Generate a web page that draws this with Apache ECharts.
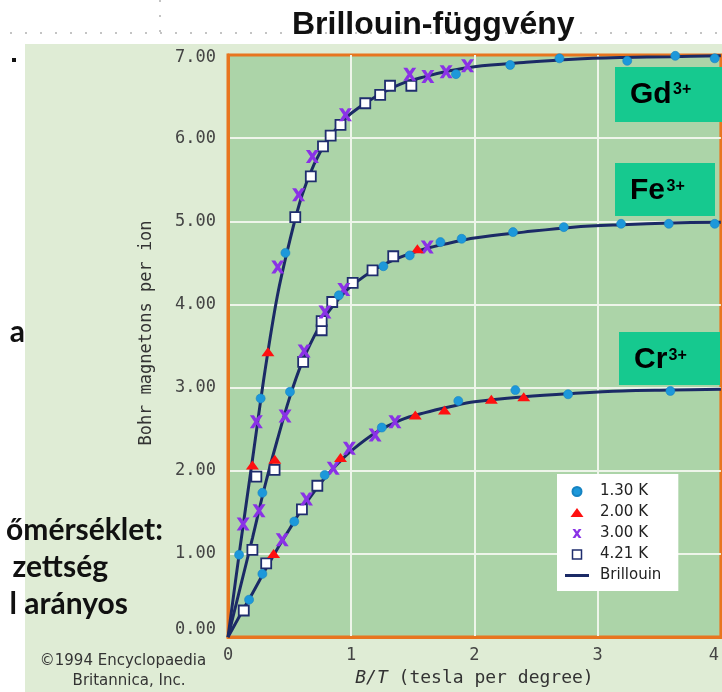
<!DOCTYPE html>
<html><head><meta charset="utf-8">
<script src="https://cdn.jsdelivr.net/npm/echarts@6/dist/echarts.min.js"></script>
<style>
html,body{margin:0;padding:0;background:#fff;width:722px;height:692px;overflow:hidden;position:relative}
#panel{position:absolute;left:25px;top:44px;width:697px;height:648px;background:#dfecd5}
#dots{position:absolute;left:10px;top:32px;width:712px;height:2px;background:repeating-linear-gradient(to right,#c4c4c4 0 2px,transparent 2px 15px)}
#vdots{position:absolute;left:159px;top:0;width:2px;height:32px;background:repeating-linear-gradient(to bottom,#c4c4c4 0 2px,transparent 2px 15px)}
#bullet{position:absolute;left:12px;top:58px;width:4px;height:4px;background:#111}
#chart{position:absolute;left:0;top:0;width:722px;height:692px}
</style></head>
<body>
<div id="panel"></div><div id="dots"></div><div id="vdots"></div><div id="bullet"></div>
<div id="chart"></div>
<script>
// ---- tick labels ----
const xTickLabels = ['0', '1', '2', '3', '4'];
const yTickLabels = ['0.00', '1.00', '2.00', '3.00', '4.00', '5.00', '6.00', '7.00'];
const legendNames = ['1.30 K', '2.00 K', '3.00 K', '4.21 K', 'Brillouin'];

// ---- measured points [B/T, Bohr magnetons per ion] ----
// Gd3+
const gd130 = [[0.09,0.99],[0.265,2.87],[0.466,4.62],[1.85,6.77],[2.29,6.88],[2.69,6.96],[3.24,6.93],[3.63,6.99],[3.95,6.96]];
const gd200 = [[0.198,2.07],[0.324,3.43]];
const gd300 = [[0.123,1.36],[0.23,2.59],[0.404,4.45],[0.573,5.32],[0.685,5.78],[0.953,6.28],[1.475,6.77],[1.622,6.74],[1.77,6.80],[1.944,6.87]];
const gd421 = [[0.23,1.93],[0.546,5.05],[0.672,5.54],[0.771,5.90],[0.833,6.03],[0.913,6.16],[1.114,6.42],[1.235,6.52],[1.315,6.63],[1.488,6.63]];
// Fe3+
const fe130 = [[0.279,1.735],[0.503,2.95],[0.9,4.11],[1.261,4.46],[1.475,4.59],[1.724,4.75],[1.896,4.79],[2.313,4.87],[2.725,4.93],[3.19,4.97],[3.577,4.97],[3.95,4.97]];
const fe200 = [[0.38,2.14],[1.537,4.67]];
const fe300 = [[0.252,1.52],[0.463,2.66],[0.618,3.44],[0.787,3.91],[0.94,4.18],[1.617,4.69]];
const fe421 = [[0.198,1.05],[0.378,2.01],[0.61,3.31],[0.76,3.69],[0.76,3.80],[0.846,4.03],[1.012,4.26],[1.173,4.41],[1.341,4.58]];
// Cr3+
const cr130 = [[0.171,0.45],[0.279,0.76],[0.538,1.39],[0.785,1.95],[1.248,2.52],[1.869,2.84],[2.332,2.97],[2.76,2.92],[3.59,2.96]];
const cr200 = [[0.37,1.005],[0.913,2.16],[1.52,2.67],[1.757,2.73],[2.137,2.86],[2.40,2.89]];
const cr300 = [[0.44,1.17],[0.637,1.66],[0.854,2.03],[0.985,2.27],[1.194,2.43],[1.355,2.59]];
const cr421 = [[0.128,0.32],[0.31,0.886],[0.6,1.535],[0.725,1.82]];

// ---- Brillouin curves ----
const gdLine = [[0,0],[0.1,1.1],[0.2,2.15],[0.3,3.2],[0.4,4.1],[0.5,4.76],[0.6,5.31],[0.7,5.69],[0.8,5.96],[0.9,6.15],[1.0,6.3],[1.2,6.5],[1.4,6.65],[1.6,6.74],[1.8,6.81],[2.0,6.86],[2.4,6.91],[2.8,6.95],[3.2,6.97],[3.6,6.98],[4.0,6.99]];
const feLine = [[0,0],[0.1,0.6],[0.2,1.2],[0.3,1.82],[0.4,2.37],[0.5,2.88],[0.6,3.3],[0.7,3.62],[0.8,3.88],[0.9,4.07],[1.0,4.22],[1.2,4.43],[1.4,4.57],[1.6,4.67],[1.8,4.74],[2.0,4.8],[2.4,4.87],[2.8,4.93],[3.2,4.96],[3.6,4.98],[4.0,4.99]];
const crLine = [[0,0],[0.1,0.27],[0.2,0.53],[0.3,0.8],[0.4,1.06],[0.5,1.3],[0.6,1.54],[0.7,1.75],[0.8,1.94],[0.9,2.1],[1.0,2.24],[1.2,2.46],[1.4,2.61],[1.6,2.7],[1.8,2.77],[2.0,2.83],[2.4,2.89],[2.8,2.93],[3.2,2.96],[3.6,2.97],[4.0,2.98]];

// ---- styling ----
const NAVY = '#1b2a66';
const MONO = '"DejaVu Sans Mono", monospace';
const XPATH = 'path://M0,0L4,0L6.5,3.6L9,0L13,0L8.6,6.5L13,13L9,13L6.5,9.4L4,13L0,13L4.4,6.5Z';

const chart = echarts.init(document.getElementById('chart'), null, {renderer: 'canvas'});

function lineSeries(data) {
  return {
    name: 'Brillouin', type: 'line', data: data, showSymbol: false, symbol: 'none',
    smooth: 0.35, z: 2, silent: true,
    lineStyle: {color: NAVY, width: 3}, itemStyle: {color: NAVY}
  };
}

const option = {
  animation: false,
  title: {
    text: 'Brillouin-függvény', left: 287, top: 4,
    textStyle: {fontFamily: '"Liberation Sans", Arial, sans-serif', fontWeight: 'bold', fontSize: 32, color: '#111'}
  },
  grid: {
    left: 228, top: 55, width: 500, height: 585, show: true,
    backgroundColor: '#acd4a8', borderColor: '#e8751f', borderWidth: 3
  },
  xAxis: {
    type: 'value', min: 0, max: 4, interval: 1,
    axisLine: {show: true, onZero: false, lineStyle: {color: '#e8751f', width: 3}},
    axisTick: {show: false},
    splitLine: {show: true, showMinLine: false, showMaxLine: false, lineStyle: {color: '#eef5ea', width: 2}},
    axisLabel: {
      margin: 10, fontFamily: MONO, fontSize: 17, color: '#444',
      formatter: function (v) {
        const s = xTickLabels[Math.round(v)];
        return Math.round(v) === 4 ? '{e|' + s + '}' : s;
      },
      rich: {e: {fontFamily: MONO, fontSize: 17, color: '#444', padding: [0, 14, 0, 0]}}
    },
    name: '{i|B/T} (tesla per degree)', nameLocation: 'middle', nameGap: 29,
    nameTextStyle: {fontFamily: MONO, fontSize: 18, color: '#333',
      rich: {i: {fontFamily: MONO, fontSize: 18, color: '#333', fontStyle: 'italic'}}}
  },
  yAxis: {
    type: 'value', min: 0, max: 7, interval: 1,
    axisLine: {show: true, onZero: false, lineStyle: {color: '#e8751f', width: 3}},
    axisTick: {show: false},
    splitLine: {show: true, showMinLine: false, showMaxLine: false, lineStyle: {color: '#eef5ea', width: 2}},
    axisLabel: {
      margin: 12, fontFamily: MONO, fontSize: 17, color: '#444',
      formatter: function (v) {
        const i = Math.round(v);
        const s = yTickLabels[i];
        if (i === 0) return '{lo|' + s + '}';
        if (i === 7) return '{hi|' + s + '}';
        return s;
      },
      rich: {
        lo: {fontFamily: MONO, fontSize: 17, color: '#444', padding: [0, 0, 16, 0]},
        hi: {fontFamily: MONO, fontSize: 17, color: '#444', padding: [5, 0, 0, 0]}
      }
    }
  },
  legend: {
    orient: 'vertical', left: 557, top: 474,
    backgroundColor: '#ffffff', padding: [10, 17, 8, 8],
    itemWidth: 24, itemHeight: 9, itemGap: 6, selectedMode: false,
    textStyle: {fontFamily: '"DejaVu Sans", sans-serif', fontSize: 15, color: '#222', padding: [0, 0, 0, 6]},
    data: [
      {name: legendNames[0], icon: 'circle'},
      {name: legendNames[1], icon: 'path://M6.5,0L13,9L0,9Z'},
      {name: legendNames[2], icon: XPATH},
      {name: legendNames[3], icon: 'path://M0,0H10V10H0Z', itemStyle: {color: '#ffffff', borderColor: '#1f2d6e', borderWidth: 1.5}},
      {name: legendNames[4], icon: 'path://M0,0H24V3H0Z', itemStyle: {color: NAVY, borderWidth: 0}}
    ]
  },
  series: [
    lineSeries(gdLine), lineSeries(feLine), lineSeries(crLine),
    {name: legendNames[3], type: 'scatter', z: 3, symbol: 'rect', symbolSize: 10,
      data: [].concat(gd421, fe421, cr421),
      itemStyle: {color: '#ffffff', borderColor: '#1f2d6e', borderWidth: 1.8, opacity: 1}},
    {name: legendNames[2], type: 'scatter', z: 4, symbol: XPATH, symbolSize: 13,
      data: [].concat(gd300, fe300, cr300),
      itemStyle: {color: '#8a32e6', opacity: 1}},
    {name: legendNames[1], type: 'scatter', z: 5, symbol: 'triangle', symbolSize: [13, 9],
      data: [].concat(gd200, fe200, cr200),
      itemStyle: {color: '#ff1010', opacity: 1}},
    {name: legendNames[0], type: 'scatter', z: 6, symbol: 'circle', symbolSize: 9,
      data: [].concat(gd130, fe130, cr130),
      itemStyle: {color: '#1d98da', borderColor: '#1683c2', borderWidth: 0.6, opacity: 1}}
  ],
  graphic: [
    // ion labels
    {type: 'rect', z: 100, shape: {x: 615, y: 67, width: 110, height: 55}, style: {fill: '#16c98f'}},
    {type: 'text', z: 101, x: 630, y: 94.5, style: {text: 'Gd', font: 'bold 30px "Liberation Sans", Arial', fill: '#000', align: 'left', verticalAlign: 'middle'}},
    {type: 'text', z: 101, x: 673, y: 90, style: {text: '3+', font: 'bold 16px "Liberation Sans", Arial', fill: '#000', align: 'left', verticalAlign: 'middle'}},
    {type: 'rect', z: 100, shape: {x: 615, y: 163, width: 100, height: 53}, style: {fill: '#16c98f'}},
    {type: 'text', z: 101, x: 630, y: 191, style: {text: 'Fe', font: 'bold 30px "Liberation Sans", Arial', fill: '#000', align: 'left', verticalAlign: 'middle'}},
    {type: 'text', z: 101, x: 666.5, y: 186.5, style: {text: '3+', font: 'bold 16px "Liberation Sans", Arial', fill: '#000', align: 'left', verticalAlign: 'middle'}},
    {type: 'rect', z: 100, shape: {x: 619, y: 332, width: 101, height: 53}, style: {fill: '#16c98f'}},
    {type: 'text', z: 101, x: 634, y: 360, style: {text: 'Cr', font: 'bold 30px "Liberation Sans", Arial', fill: '#000', align: 'left', verticalAlign: 'middle'}},
    {type: 'text', z: 101, x: 668.5, y: 355.5, style: {text: '3+', font: 'bold 16px "Liberation Sans", Arial', fill: '#000', align: 'left', verticalAlign: 'middle'}},
    // y axis title
    {type: 'text', z: 101, x: 147, y: 333, rotation: Math.PI / 2,
      style: {text: 'Bohr magnetons per ion', font: '17px "DejaVu Sans Mono", monospace', fill: '#333', align: 'center', verticalAlign: 'middle'}},
    // copyright
    {type: 'text', z: 101, x: 123, y: 661, style: {text: '©1994 Encyclopaedia', font: '15px "DejaVu Sans", sans-serif', fill: '#333', align: 'center', verticalAlign: 'middle'}},
    {type: 'text', z: 101, x: 129, y: 681, style: {text: 'Britannica, Inc.', font: '15px "DejaVu Sans", sans-serif', fill: '#333', align: 'center', verticalAlign: 'middle'}},
    // slide text fragments
    {type: 'text', z: 101, x: 25, y: 332, style: {text: 'a', font: 'bold 30px Lato, sans-serif', fill: '#111', align: 'right', verticalAlign: 'middle'}},
    {type: 'text', z: 101, x: 163, y: 530, style: {text: 'őmérséklet:', font: 'bold 30px Lato, sans-serif', fill: '#111', align: 'right', verticalAlign: 'middle'}},
    {type: 'text', z: 101, x: 108, y: 567, style: {text: 'zettség', font: 'bold 30px Lato, sans-serif', fill: '#111', align: 'right', verticalAlign: 'middle'}},
    {type: 'text', z: 101, x: 128, y: 604, style: {text: 'l arányos', font: 'bold 30px Lato, sans-serif', fill: '#111', align: 'right', verticalAlign: 'middle'}}
  ]
};
chart.setOption(option);
</script>
</body></html>
